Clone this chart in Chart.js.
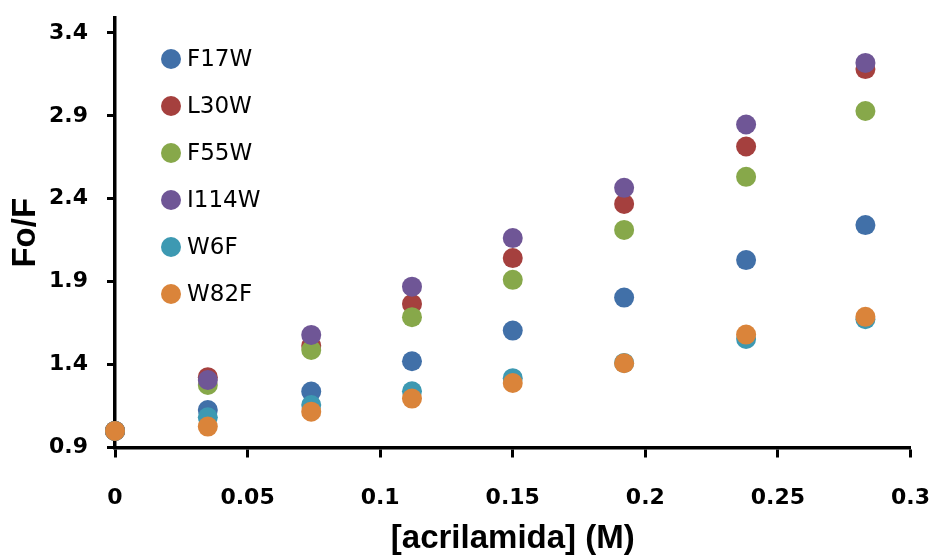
<!DOCTYPE html>
<html>
<head>
<meta charset="utf-8">
<title>Fo/F vs [acrilamida]</title>
<script src="https://cdn.jsdelivr.net/npm/chart.js@4"></script>
<style>
    html, body { margin: 0; padding: 0; background: #ffffff; }
    #wrap { width: 933px; height: 556px; position: relative; }
</style>
</head>
<body>
<div id="wrap"><canvas id="quenchChart"></canvas></div>
<script>
// acrylamide concentration (M)
const acrilamida = [0, 0.035, 0.074, 0.112, 0.15, 0.192, 0.238, 0.283];

// Fo/F for each mutant
const F17W  = [1.0, 1.126, 1.237, 1.420, 1.605, 1.804, 2.030, 2.241];
const L30W  = [1.0, 1.324, 1.513, 1.766, 2.042, 2.369, 2.715, 3.182];
const F55W  = [1.0, 1.277, 1.488, 1.686, 1.911, 2.212, 2.532, 2.929];
const I114W = [1.0, 1.307, 1.579, 1.870, 2.163, 2.466, 2.848, 3.219];
const W6F   = [1.0, 1.082, 1.156, 1.239, 1.318, 1.410, 1.555, 1.674];
const W82F  = [1.0, 1.026, 1.116, 1.195, 1.289, 1.408, 1.581, 1.688];

const seriesNames = ['F17W', 'L30W', 'F55W', 'I114W', 'W6F', 'W82F'];
const seriesValues = [F17W, L30W, F55W, I114W, W6F, W82F];
const seriesColors = ['#4170A8', '#A5403E', '#87A84A', '#6F5696', '#3D99B2', '#DA843A'];

// axis ticks
const xTickValues = [0, 0.05, 0.1, 0.15, 0.2, 0.25, 0.3];
const xTickLabels = ['0', '0.05', '0.1', '0.15', '0.2', '0.25', '0.3'];
const yTickValues = [0.9, 1.4, 1.9, 2.4, 2.9, 3.4];
const yTickLabels = ['0.9', '1.4', '1.9', '2.4', '2.9', '3.4'];

let datasets = seriesNames.map(function (name, i) {
    return {
        label: name,
        data: acrilamida.map(function (x, j) { return { x: x, y: seriesValues[i][j] }; }),
        backgroundColor: seriesColors[i],
        borderColor: seriesColors[i],
        borderWidth: 0,
        pointRadius: 10,
        pointHoverRadius: 10,
        clip: false,
        order: seriesNames.length - i // later series drawn on top
    };
});

// legend drawn inside the plot, stacked at top-left
const insideLegend = {
    id: 'insideLegend',
    afterDraw: function (chart) {
        const ctx = chart.ctx;
        ctx.save();
        ctx.font = '23px "DejaVu Sans"';
        ctx.textBaseline = 'middle';
        ctx.textAlign = 'left';
        chart.data.datasets.forEach(function (ds, i) {
            let cy = 59 + i * 47;
            ctx.beginPath();
            ctx.arc(171, cy, 10, 0, Math.PI * 2);
            ctx.fillStyle = ds.backgroundColor;
            ctx.fill();
            ctx.fillStyle = '#000000';
            ctx.fillText(ds.label, 187, cy + 1);
        });
        ctx.restore();
    }
};

const tickFont = { family: 'DejaVu Sans', size: 22, weight: 'bold' };
const titleFont = { family: 'Liberation Sans', size: 33, weight: 'bold' };

const ctx = document.getElementById('quenchChart').getContext('2d');
const quenchChart = new Chart(ctx, {
    type: 'scatter',
    data: { datasets: datasets },
    options: {
        responsive: true,
        maintainAspectRatio: false,
        animation: false,
        layout: { padding: { top: 18, right: 22.5, left: 0, bottom: 0 } },
        plugins: {
            legend: { display: false },
            tooltip: { enabled: false }
        },
        scales: {
            x: {
                type: 'linear',
                min: 0,
                max: 0.3,
                afterFit: function (s) {
                    s.height = 108.5;
                    s.paddingLeft = 0;
                    s.paddingRight = 0;
                },
                afterBuildTicks: function (s) {
                    s.ticks = xTickValues.map(function (v) { return { value: v }; });
                },
                ticks: {
                    color: '#000000',
                    font: tickFont,
                    padding: 28,
                    maxRotation: 0,
                    autoSkip: false,
                    callback: function (v) {
                        let k = xTickValues.findIndex(function (t) { return Math.abs(t - v) < 1e-9; });
                        return k >= 0 ? xTickLabels[k] : '';
                    }
                },
                grid: {
                    drawOnChartArea: false,
                    drawTicks: true,
                    tickLength: 10,
                    tickWidth: 3,
                    tickColor: '#000000'
                },
                border: { display: true, color: '#000000', width: 3.5 },
                title: {
                    display: true,
                    text: '[acrilamida] (M)',
                    color: '#000000',
                    font: titleFont,
                    padding: { top: 0, bottom: -3 }
                }
            },
            y: {
                type: 'linear',
                min: 0.9,
                max: 3.49,
                afterFit: function (s) {
                    s.width = 115;
                    s.paddingTop = 0;
                    s.paddingBottom = 0;
                },
                afterBuildTicks: function (s) {
                    s.ticks = yTickValues.map(function (v) { return { value: v }; });
                },
                ticks: {
                    color: '#000000',
                    font: tickFont,
                    padding: 19,
                    autoSkip: false,
                    callback: function (v) {
                        let k = yTickValues.findIndex(function (t) { return Math.abs(t - v) < 1e-9; });
                        return k >= 0 ? yTickLabels[k] : '';
                    }
                },
                grid: {
                    drawOnChartArea: false,
                    drawTicks: true,
                    tickLength: 8,
                    tickWidth: 3,
                    tickColor: '#000000'
                },
                border: { display: true, color: '#000000', width: 3.5 },
                title: {
                    display: true,
                    text: 'Fo/F',
                    color: '#000000',
                    font: titleFont,
                    padding: { top: 6, bottom: 0 }
                }
            }
        }
    },
    plugins: [insideLegend]
});
</script>
</body>
</html>
